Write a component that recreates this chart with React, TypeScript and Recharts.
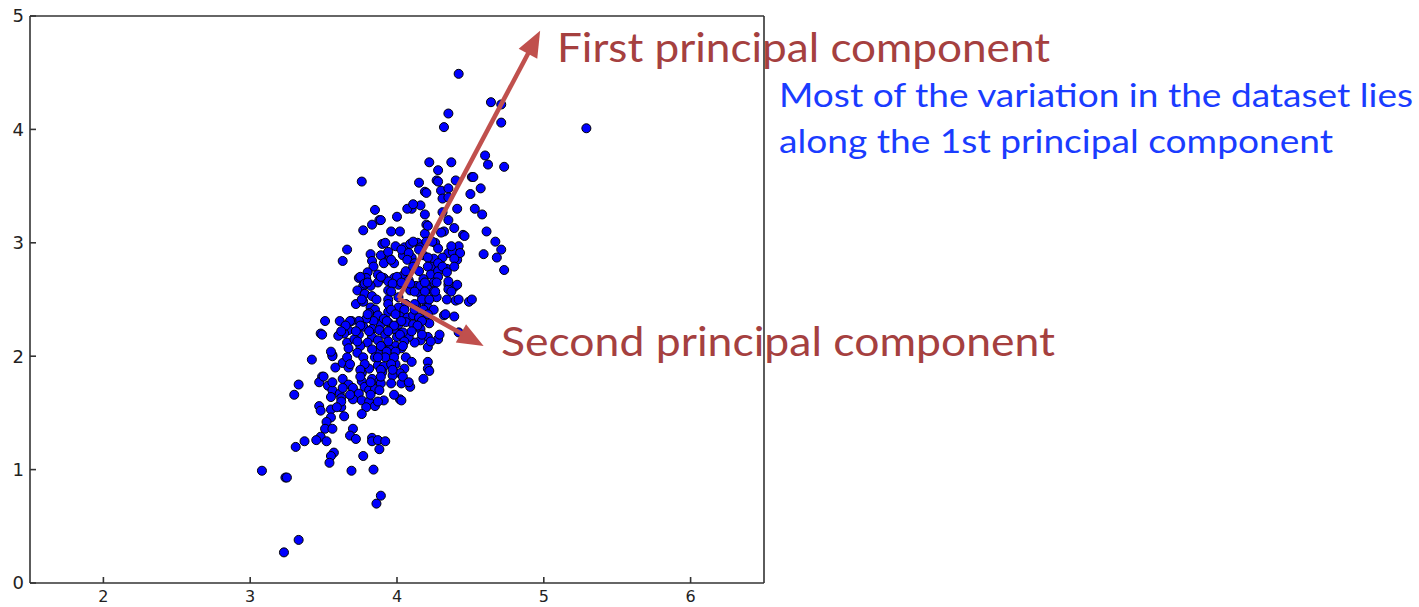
import React from 'react';
import { ScatterChart, Scatter, XAxis, YAxis, ZAxis } from 'recharts';

// points, split by height band
const upperPoints: [number, number][] = [
  [4.42, 4.49], [4.64, 4.24], [4.71, 4.22], [4.71, 4.06], [4.35, 4.14], [4.32, 4.02], [5.29, 4.01],
  [4.60, 3.77], [4.62, 3.69], [4.73, 3.67], [4.22, 3.71], [4.37, 3.71], [4.28, 3.64], [4.27, 3.55],
  [4.15, 3.53], [4.40, 3.55], [4.51, 3.58], [4.57, 3.48], [4.19, 3.45], [4.30, 3.46], [4.35, 3.48],
  [4.50, 3.43], [4.31, 3.39], [4.35, 3.40], [3.76, 3.54], [4.10, 3.30], [4.16, 3.33], [4.07, 3.30],
  [4.19, 3.25], [4.41, 3.30], [4.53, 3.30], [4.58, 3.25], [4.31, 3.27], [3.85, 3.29], [3.88, 3.20],
  [3.83, 3.16], [4.00, 3.23], [3.77, 3.11], [3.96, 3.10], [4.02, 3.10], [4.20, 3.16], [4.35, 3.20],
  [4.39, 3.13], [4.61, 3.10], [4.45, 3.07], [4.32, 3.10], [4.19, 3.08], [4.67, 3.01], [4.71, 2.94],
  [4.59, 2.90], [4.68, 2.87], [4.73, 2.76], [4.42, 2.97], [3.66, 2.94], [3.63, 2.84], [3.82, 2.90],
  [3.90, 2.99], [3.92, 3.00], [3.99, 2.97], [4.05, 2.96], [4.09, 2.99], [4.14, 3.00], [4.16, 2.96],
  [4.20, 3.01], [4.26, 3.00], [4.28, 2.95], [4.35, 2.91], [4.38, 2.92], [4.41, 2.85], [4.31, 2.87],
  [4.25, 2.86], [4.18, 2.89], [4.10, 2.87], [4.04, 2.89], [3.92, 2.89], [3.95, 2.86], [3.98, 2.82],
  [4.20, 3.44], [4.28, 3.54], [4.52, 3.58], [4.11, 3.34], [3.89, 3.20], [4.21, 3.15], [4.30, 3.09],
  [4.46, 3.06], [4.03, 2.94], [4.11, 3.01], [4.24, 3.01], [4.37, 2.97], [4.43, 2.91], [3.89, 2.89],
  [3.94, 2.92], [4.08, 2.91], [4.15, 2.94], [4.21, 2.87], [4.39, 2.86], [3.91, 2.82], [3.96, 2.85],
  [4.07, 2.85], [4.12, 2.82], [4.23, 2.79], [4.28, 2.82], [4.34, 2.77], [4.39, 2.79],
];

const corePoints: [number, number][] = [
  [3.83, 2.84], [3.84, 2.79], [3.80, 2.74], [3.87, 2.72], [3.74, 2.69], [3.79, 2.69], [3.91, 2.69],
  [3.98, 2.69], [4.04, 2.71], [4.06, 2.75], [4.11, 2.79], [4.15, 2.75], [4.21, 2.79], [4.23, 2.72],
  [4.28, 2.75], [4.31, 2.79], [4.34, 2.74], [4.28, 2.70], [4.25, 2.65], [4.20, 2.63], [4.13, 2.62],
  [4.08, 2.67], [4.01, 2.63], [3.94, 2.66], [3.87, 2.65], [3.82, 2.62], [3.77, 2.62], [3.73, 2.58],
  [3.78, 2.55], [3.83, 2.53], [3.94, 2.58], [4.01, 2.52], [4.09, 2.58], [4.16, 2.55], [4.21, 2.59],
  [4.25, 2.57], [4.35, 2.63], [4.39, 2.61], [4.35, 2.59], [4.37, 2.57], [4.27, 2.52], [4.34, 2.50],
  [4.40, 2.49], [4.49, 2.48], [4.20, 2.47], [4.21, 2.43], [4.25, 2.41], [4.13, 2.45], [4.06, 2.46],
  [4.01, 2.43], [4.05, 2.41], [3.94, 2.50], [3.86, 2.50], [3.72, 2.46], [3.77, 2.48], [3.82, 2.43],
  [3.85, 2.41], [3.81, 2.38], [3.87, 2.36], [3.94, 2.39], [4.02, 2.35], [4.07, 2.34], [4.11, 2.36],
  [4.15, 2.34], [4.22, 2.29], [4.32, 2.36], [4.39, 2.35], [4.42, 2.21], [4.28, 2.15], [4.21, 2.17],
  [4.16, 2.14], [4.21, 2.08], [4.12, 2.12], [4.08, 2.17], [4.04, 2.21], [4.00, 2.17], [3.98, 2.24],
  [4.01, 2.28], [4.06, 2.30], [4.11, 2.28], [4.16, 2.24], [3.89, 2.28], [3.94, 2.30], [3.91, 2.33],
  [3.84, 2.31], [3.79, 2.33], [3.74, 2.31], [3.69, 2.31], [3.61, 2.31], [3.51, 2.31], [3.77, 2.26],
  [3.83, 2.24], [3.88, 2.23], [3.67, 2.23], [3.74, 2.19], [3.64, 2.20], [3.60, 2.18], [3.48, 2.20],
  [3.83, 2.17], [3.92, 2.19], [3.87, 2.14], [3.80, 2.12], [3.66, 2.12], [3.71, 2.15], [3.75, 2.09],
  [3.92, 2.09], [3.99, 2.09], [4.03, 2.07], [3.95, 2.06], [3.87, 2.04], [3.83, 2.06], [3.73, 2.03],
  [3.67, 2.07], [3.56, 2.01], [3.56, 2.00],
  [3.75, 2.70], [3.89, 2.70], [4.00, 2.70], [4.18, 2.68], [4.35, 2.66], [4.41, 2.63], [3.78, 2.64],
  [3.97, 2.64], [4.09, 2.64], [4.16, 2.62], [3.80, 2.65], [4.03, 2.65], [4.19, 2.65], [4.27, 2.65],
  [3.96, 2.57], [4.12, 2.57], [4.19, 2.57], [4.26, 2.57], [3.76, 2.50], [4.17, 2.50], [4.22, 2.50],
  [4.42, 2.50], [4.51, 2.50], [3.94, 2.46], [4.12, 2.46], [3.96, 2.41], [4.12, 2.41], [4.18, 2.41],
  [3.80, 2.37], [3.99, 2.37], [4.21, 2.37], [4.33, 2.37], [3.68, 2.31], [3.93, 2.31], [4.03, 2.31],
  [4.17, 2.31], [3.65, 2.27], [3.75, 2.27], [3.98, 2.27], [4.14, 2.27], [3.62, 2.22], [3.72, 2.22],
  [3.81, 2.22], [3.94, 2.22], [4.10, 2.22], [3.49, 2.19], [4.02, 2.19], [4.17, 2.19], [4.29, 2.19],
  [3.73, 2.13], [3.94, 2.13], [4.05, 2.13], [4.23, 2.13], [3.89, 2.09], [4.04, 2.09], [3.55, 2.04],
  [3.93, 2.04], [3.99, 2.04],
];

const lowerPoints: [number, number][] = [
  [3.42, 1.97], [3.58, 1.90], [3.63, 1.94], [3.67, 1.90], [3.77, 1.99], [3.85, 1.99], [3.92, 1.99],
  [3.87, 1.92], [3.81, 1.89], [3.91, 1.91], [3.99, 1.93], [4.06, 1.99], [4.10, 1.95], [4.05, 1.89],
  [4.21, 1.95], [4.21, 1.89], [4.22, 1.87], [4.18, 1.80], [4.02, 1.85], [3.97, 1.83], [3.90, 1.86],
  [3.76, 1.85], [3.76, 1.78], [3.83, 1.80], [3.88, 1.78], [3.96, 1.76], [4.03, 1.76], [4.09, 1.73],
  [3.63, 1.80], [3.67, 1.75], [3.49, 1.82], [3.47, 1.77], [3.53, 1.74], [3.33, 1.75], [3.30, 1.66],
  [3.56, 1.70], [3.55, 1.64], [3.61, 1.67], [3.62, 1.63], [3.70, 1.72], [3.72, 1.65], [3.78, 1.73],
  [3.81, 1.70], [3.85, 1.71], [3.89, 1.76], [3.88, 1.70], [3.74, 1.67], [3.70, 1.62], [3.76, 1.61],
  [3.81, 1.60], [3.85, 1.56], [3.91, 1.61], [3.79, 1.55], [3.76, 1.49], [4.02, 1.62], [4.03, 1.61],
  [3.47, 1.56], [3.48, 1.52], [3.55, 1.53], [3.62, 1.55], [3.64, 1.47], [3.55, 1.46], [3.52, 1.42],
  [3.51, 1.36], [3.56, 1.36], [3.70, 1.36], [3.68, 1.30], [3.72, 1.27], [3.48, 1.29], [3.45, 1.26],
  [3.52, 1.25], [3.37, 1.25], [3.31, 1.20], [3.83, 1.28], [3.83, 1.25], [3.87, 1.26], [3.92, 1.25],
  [3.88, 1.18], [3.57, 1.15], [3.55, 1.12], [3.54, 1.06], [3.77, 1.12], [3.69, 0.99], [3.84, 1.00],
  [3.08, 0.99], [3.24, 0.93], [3.25, 0.93], [3.89, 0.77], [3.86, 0.70], [3.33, 0.38], [3.23, 0.27],
  [3.66, 1.99], [3.87, 1.99], [3.98, 1.99], [3.68, 1.93], [3.78, 1.93], [3.96, 1.93], [3.75, 1.88],
  [3.89, 1.88], [3.97, 1.88], [3.50, 1.82], [3.75, 1.82], [3.89, 1.82], [4.04, 1.82], [3.56, 1.77],
  [3.82, 1.77], [4.08, 1.77], [3.63, 1.72], [3.68, 1.66], [3.82, 1.66], [3.98, 1.66], [3.62, 1.60],
  [3.87, 1.60], [3.59, 1.55],
];

const xTicks = [2, 3, 4, 5, 6];
const yTicks = [0, 1, 2, 3, 4, 5];

// principal component arrows: start point and tip, in data units
const firstPc = [{ x: 4.01, y: 2.51 }, { x: 4.975, y: 4.87 }];
const secondPc = [{ x: 4.01, y: 2.51 }, { x: 4.59, y: 2.09 }];

const data = [...upperPoints, ...corePoints, ...lowerPoints].map(([x, y]) => ({ x, y }));

const ARROW = '#c0504d';
const AXIS = '#333';

// draws the scatter "line" (two points) as an arrow
const arrowLine = (props: any) => {
  const [p1, p2] = props.points;
  const dx = p2.x - p1.x;
  const dy = p2.y - p1.y;
  const len = Math.sqrt(dx * dx + dy * dy);
  const ux = dx / len;
  const uy = dy / len;
  const head = 26;
  const half = 10.5;
  const bx = p2.x - ux * head;
  const by = p2.y - uy * head;
  const pts = `${p2.x},${p2.y} ${bx - uy * half},${by + ux * half} ${bx + uy * half},${by - ux * half}`;
  return (
    <g>
      <line x1={p1.x} y1={p1.y} x2={bx + ux * 2} y2={by + uy * 2} stroke={ARROW} strokeWidth={4.5} />
      <polygon points={pts} fill={ARROW} />
    </g>
  );
};

const noMarker = () => <g />;

const BottomTick = (props: any) => (
  <text
    x={props.x}
    y={props.y}
    dy="0.72em"
    textAnchor="middle"
    fontFamily="DejaVu Sans"
    fontSize={16}
    fill="#222"
  >
    {props.payload.value}
  </text>
);

const LeftTick = (props: any) => (
  <text
    x={props.x}
    y={props.y}
    dy="0.36em"
    textAnchor="end"
    fontFamily="DejaVu Sans"
    fontSize={18}
    fill="#222"
  >
    {props.payload.value}
  </text>
);

export default function App() {
  return (
    <div style={{ position: 'absolute', left: 0, top: 0, width: 1419, height: 607, background: '#fff' }}>
      <ScatterChart width={1419} height={607} margin={{ top: 15, right: 654, left: 0, bottom: 0 }}>
        <XAxis
          type="number"
          dataKey="x"
          domain={[1.5, 6.5]}
          ticks={xTicks}
          height={24}
          tickSize={-6}
          tickMargin={13.5}
          tick={<BottomTick />}
          stroke={AXIS}
          strokeWidth={1.6}
          allowDataOverflow
        />
        <XAxis
          xAxisId="top"
          orientation="top"
          type="number"
          dataKey="x"
          domain={[1.5, 6.5]}
          ticks={xTicks}
          height={1}
          tickSize={-6}
          tick={false}
          stroke={AXIS}
          strokeWidth={1.6}
          allowDataOverflow
        />
        <YAxis
          type="number"
          dataKey="y"
          domain={[0, 5]}
          ticks={yTicks}
          width={30}
          tickSize={-6}
          tickMargin={12}
          tick={<LeftTick />}
          stroke={AXIS}
          strokeWidth={1.6}
          allowDataOverflow
        />
        <YAxis
          yAxisId="right"
          orientation="right"
          type="number"
          dataKey="y"
          domain={[0, 5]}
          ticks={yTicks}
          width={1}
          tickSize={-6}
          tick={false}
          stroke={AXIS}
          strokeWidth={1.6}
          allowDataOverflow
        />
        <ZAxis range={[55, 55]} />
        <Scatter data={data} fill="#0000ff" stroke="#000" strokeWidth={1} isAnimationActive={false} />
        <Scatter
          data={firstPc}
          xAxisId="top"
          yAxisId="right"
          line={arrowLine}
          shape={noMarker}
          fill={ARROW}
          isAnimationActive={false}
        />
        <Scatter
          data={secondPc}
          xAxisId="top"
          yAxisId="right"
          line={arrowLine}
          shape={noMarker}
          fill={ARROW}
          isAnimationActive={false}
        />
      </ScatterChart>
      <svg
        width={1419}
        height={607}
        style={{ position: 'absolute', left: 0, top: 0, pointerEvents: 'none' }}
      >
        <g fontFamily="Lato, 'Open Sans', sans-serif">
          <text x={557} y={62} fontSize={40} fill="#a5403f" textLength={493} lengthAdjust="spacingAndGlyphs">
            First principal component
          </text>
          <text x={501} y={356} fontSize={40} fill="#a5403f" textLength={554} lengthAdjust="spacingAndGlyphs">
            Second principal component
          </text>
          <text x={779} y={107} fontSize={32.5} fill="#1a3cff" textLength={634} lengthAdjust="spacingAndGlyphs">
            Most of the variation in the dataset lies
          </text>
          <text x={779} y={153} fontSize={32.5} fill="#1a3cff" textLength={554} lengthAdjust="spacingAndGlyphs">
            along the 1st principal component
          </text>
        </g>
      </svg>
    </div>
  );
}
